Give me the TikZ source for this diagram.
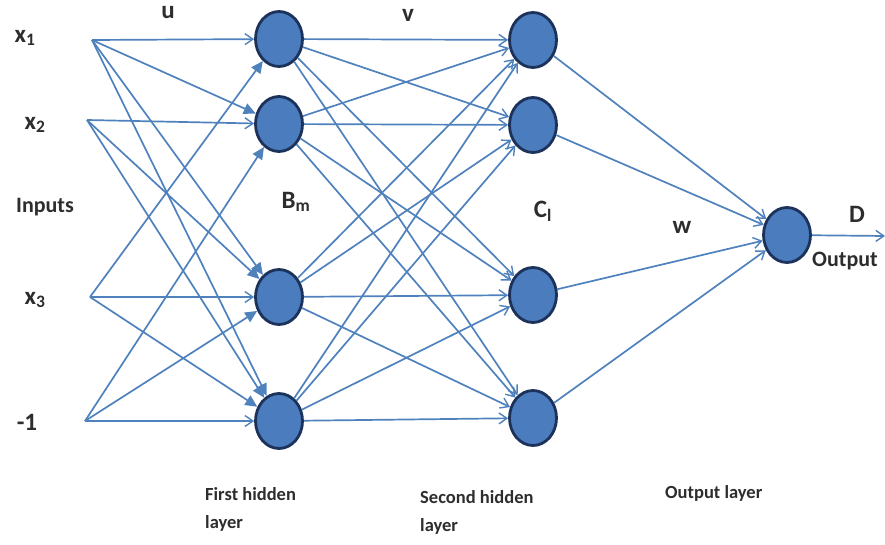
\documentclass[tikz,border=0pt]{standalone}
\usepackage{fontspec}
\setmainfont{Carlito}
\usetikzlibrary{shapes.geometric,arrows.meta}
\definecolor{edgeblue}{RGB}{79,129,189}
\definecolor{nodefill}{RGB}{74,124,190}
\definecolor{nodeborder}{RGB}{28,50,90}
\definecolor{txt}{RGB}{45,45,45}
\begin{document}
\begin{tikzpicture}[x=1pt,y=-1pt,
  neuron/.style={ellipse,draw=nodeborder,fill=nodefill,line width=2.8pt,minimum width=47pt,minimum height=55pt,inner sep=0pt},
  lbl/.style={font=\bfseries\fontsize{22}{24}\selectfont,text=txt,inner sep=0pt},
  biglbl/.style={font=\bfseries\fontsize{25}{27}\selectfont,text=txt,inner sep=0pt},
  layerlbl/.style={font=\bfseries\fontsize{18.5}{28}\selectfont,text=txt,inner sep=0pt,align=left,anchor=north west},
  openarrow/.style={draw=edgeblue,line width=1.7pt,-{Straight Barb[length=8pt,width=11pt,line width=1.4pt]}},
  fillarrow/.style={draw=edgeblue,line width=1.7pt,-{Triangle[length=12pt,width=11pt]}}
]
\useasboundingbox (0,0) rectangle (885,545);

% input sources
\coordinate (i1) at (92,40);
\coordinate (i2) at (87,120);
\coordinate (i3) at (90,297);
\coordinate (i4) at (85,421);

% neurons
\node[neuron] (b1) at (279,39) {};
\node[neuron] (b2) at (279,124) {};
\node[neuron] (b3) at (279,297) {};
\node[neuron] (b4) at (279,421) {};
\node[neuron] (c1) at (533,40) {};
\node[neuron] (c2) at (533,125) {};
\node[neuron] (c3) at (533,295) {};
\node[neuron] (c4) at (533,418) {};
\node[neuron] (o) at (787,235) {};
\coordinate (out) at (885,236);

% input -> first hidden
\draw[openarrow] (i1) -- (b1);
\draw[fillarrow] (i1) -- (b2);
\draw[fillarrow] (i1) -- (b3);
\draw[fillarrow] (i1) -- (b4);
\draw[openarrow] (i2) -- (b2);
\draw[fillarrow] (i2) -- (b3);
\draw[fillarrow] (i2) -- (b4);
\draw[fillarrow] (i3) -- (b1);
\draw[openarrow] (i3) -- (b3);
\draw[fillarrow] (i3) -- (b4);
\draw[fillarrow] (i4) -- (b2);
\draw[fillarrow] (i4) -- (b3);
\draw[openarrow] (i4) -- (b4);

% first hidden -> second hidden
\foreach \s in {b1,b2,b3,b4}{
  \foreach \t in {c1,c2,c3,c4}{
    \draw[openarrow] (\s) -- (\t);
  }
}

% second hidden -> output
\foreach \s in {c1,c2,c3,c4}{
  \draw[openarrow] (\s) -- (o);
}
\draw[openarrow] (o) -- (out);

% labels
\node[biglbl] (lx1) at (25,38) {x\textsubscript{1}};
\node[biglbl] (lx2) at (35,125) {x\textsubscript{2}};
\node[biglbl] (lx3) at (35,300) {x\textsubscript{3}};
\node[biglbl] (lm1) at (27,422) {-1};
\node[lbl] (linp) at (45,207) {Inputs};
\node[biglbl] (lu) at (168,13) {u};
\node[biglbl] (lv) at (408,15) {v};
\node[biglbl] (lw) at (682,227) {w};
\node[biglbl] (lD) at (857,214) {D};
\node[lbl] (lout) at (845,261) {Output};
\node[biglbl] (lB) at (296,202) {B\textsubscript{m}};
\node[biglbl] (lC) at (543,211) {C\textsubscript{l}};
\node[layerlbl] (l1) at (205,487) {First hidden\\layer};
\node[layerlbl] (l2) at (420,490) {Second hidden\\layer};
\node[layerlbl] (l3) at (665,485) {Output layer};
\end{tikzpicture}
\end{document}
